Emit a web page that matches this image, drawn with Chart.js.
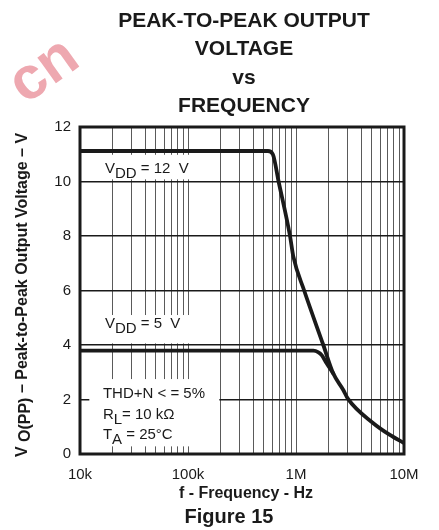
<!DOCTYPE html>
<html>
<head>
<meta charset="utf-8">
<script src="https://cdn.jsdelivr.net/npm/chart.js@4.4.1/dist/chart.umd.min.js"></script>
<style>
  html, body { margin: 0; padding: 0; background: #fff; }
</style>
</head>
<body>
<canvas id="chart" width="439" height="530"></canvas>
<script>
const FONT = '"Liberation Sans", Arial, Helvetica, sans-serif'

// VDD = 12 V curve
const freq12 = [1e4, 5.5e5, 6.1e5, 6.9e5, 8.8e5, 9.45e5, 1.19e6, 1.79e6, 2.21e6, 2.74e6, 3.03e6, 5.16e6, 7.4e6, 1e7]
const vpp12 = [11.12, 11.12, 11.0, 10.0, 8.0, 7.24, 6.0, 4.0, 2.96, 2.35, 2.02, 1.14, 0.70, 0.40]
// VDD = 5 V curve, runs into the 12 V one near 2 MHz
const freq5 = [1e4, 1.45e6, 1.6e6, 1.73e6, 1.92e6, 2.21e6]
const vpp5 = [3.79, 3.79, 3.74, 3.63, 3.33, 2.96]

const xTickValues = [1e4, 1e5, 1e6, 1e7]
const xTickLabels = ['10k', '100k', '1M', '10M']
const yTickValues = [0, 2, 4, 6, 8, 10, 12]

const titleLines = ['PEAK-TO-PEAK OUTPUT', 'VOLTAGE', 'vs', 'FREQUENCY']

// grid lines at 1..9 of every decade
const gridFreqs = []
xTickValues.slice(0, -1).forEach(d => {
  for (let k = 1; k < 10; k++) gridFreqs.push(k * d)
})
gridFreqs.push(xTickValues[xTickValues.length - 1])

// white boxes behind the notes, in data units: [x0, x1, yTop, yBottom]
const noteBoxes = [
  [1e4, 1.4e5, 10.98, 10.08],
  [1e4, 1.4e5, 5.1, 4.06],
  [1.22e4, 1.95e5, 2.75, 0.28]
]
// notes: anchor [x, y] in data units, parts are [text, isSubscript]
const notes = [
  { at: [1.7e4, 10.3], parts: [['V', 0], ['DD', 1], [' = 12  V', 0]] },
  { at: [1.7e4, 4.62], parts: [['V', 0], ['DD', 1], [' = 5  V', 0]] },
  { at: [1.63e4, 2.05], parts: [['THD+N < = 5%', 0]] },
  { at: [1.63e4, 1.27], parts: [['R', 0], ['L', 1], ['= 10 k\u03A9', 0]] },
  { at: [1.63e4, 0.55], parts: [['T', 0], ['A', 1], [' = 25\u00B0C', 0]] }
]

function toPoints(xs, ys) {
  return xs.map((x, i) => ({ x, y: ys[i] }))
}

function drawParts(ctx, parts, x, y, size, bold, subShift) {
  parts.forEach(([text, sub]) => {
    ctx.font = (bold ? 'bold ' : '') + size + 'px ' + FONT
    ctx.fillText(text, x, y + (sub ? subShift : 0))
    x += ctx.measureText(text).width
  })
}

function partsWidth(ctx, parts, size, bold) {
  ctx.font = (bold ? 'bold ' : '') + size + 'px ' + FONT
  return parts.reduce((w, p) => w + ctx.measureText(p[0]).width, 0)
}

const decor = {
  id: 'decor',
  beforeDraw(chart) {
    // faint watermark in the corner
    const { ctx } = chart
    ctx.save()
    ctx.translate(42, 68)
    ctx.rotate(-0.62)
    ctx.fillStyle = 'rgb(238, 168, 176)'
    ctx.font = 'bold 60px ' + FONT
    ctx.textAlign = 'center'
    ctx.textBaseline = 'middle'
    ctx.fillText('cn', 0, 4)
    ctx.restore()
  },
  beforeDatasetsDraw(chart) {
    const { ctx, scales: { x, y } } = chart
    ctx.save()
    ctx.fillStyle = '#fff'
    noteBoxes.forEach(([x0, x1, y0, y1]) => {
      const px0 = x.getPixelForValue(x0)
      const px1 = x.getPixelForValue(x1)
      const py0 = y.getPixelForValue(y0)
      const py1 = y.getPixelForValue(y1)
      ctx.fillRect(px0, py0, px1 - px0, py1 - py0)
    })
    ctx.fillStyle = '#1a1a1a'
    ctx.textBaseline = 'alphabetic'
    ctx.textAlign = 'left'
    notes.forEach(n => {
      drawParts(ctx, n.parts, x.getPixelForValue(n.at[0]), y.getPixelForValue(n.at[1]), 15, false, 5)
    })
    ctx.restore()
  },
  afterDatasetsDraw(chart) {
    const { ctx, chartArea: a } = chart
    ctx.save()
    ctx.strokeStyle = '#1a1a1a'
    ctx.lineWidth = 3
    ctx.strokeRect(a.left, a.top, a.right - a.left, a.bottom - a.top)
    ctx.restore()
  },
  afterDraw(chart) {
    const { ctx } = chart
    ctx.save()
    ctx.fillStyle = '#1a1a1a'
    ctx.textAlign = 'center'
    ctx.textBaseline = 'alphabetic'
    ctx.font = 'bold 21px ' + FONT
    titleLines.forEach((t, i) => ctx.fillText(t, 244, 26.5 + i * 28.5))

    ctx.font = 'bold 16px ' + FONT
    ctx.fillText('f - Frequency - Hz', 246, 498)
    ctx.font = 'bold 20px ' + FONT
    ctx.fillText('Figure 15', 229, 523)

    // y axis title with subscript
    const yParts = [['V ', 0], ['O(PP)', 1], [' \u2013 Peak-to-Peak Output Voltage \u2013 V', 0]]
    ctx.translate(27, 295)
    ctx.rotate(-Math.PI / 2)
    ctx.textAlign = 'left'
    const w = partsWidth(ctx, yParts, 16, true)
    drawParts(ctx, yParts, -w / 2, 0, 16, true, 3)
    ctx.restore()
  }
}

new Chart(document.getElementById('chart'), {
  type: 'line',
  data: {
    datasets: [
      { label: 'VDD = 12 V', data: toPoints(freq12, vpp12) },
      { label: 'VDD = 5 V', data: toPoints(freq5, vpp5) }
    ]
  },
  options: {
    responsive: false,
    animation: false,
    layout: { padding: { top: 127, right: 35, left: 0, bottom: 0 } },
    elements: {
      line: { borderColor: '#1a1a1a', borderWidth: 3.8, cubicInterpolationMode: 'monotone', borderCapStyle: 'round' },
      point: { radius: 0 }
    },
    plugins: {
      legend: { display: false },
      tooltip: { enabled: false },
      title: { display: false }
    },
    scales: {
      x: {
        type: 'logarithmic',
        min: 1e4,
        max: 1e7,
        afterBuildTicks: scale => { scale.ticks = gridFreqs.map(v => ({ value: v })) },
        afterFit: scale => { scale.height = 76 },
        grid: { color: '#5a5a5a', lineWidth: 1, drawTicks: false },
        border: { display: false },
        ticks: {
          autoSkip: false,
          maxRotation: 0,
          padding: 12,
          color: '#1a1a1a',
          font: { family: FONT, size: 15 },
          callback: v => {
            const i = xTickValues.indexOf(v)
            return i >= 0 ? xTickLabels[i] : ''
          }
        }
      },
      y: {
        min: 0,
        max: 12,
        afterBuildTicks: scale => { scale.ticks = yTickValues.map(v => ({ value: v })) },
        afterFit: scale => { scale.width = 80 },
        grid: { color: '#1a1a1a', lineWidth: 1.6, drawTicks: false },
        border: { display: false },
        ticks: {
          padding: 9,
          color: '#1a1a1a',
          font: { family: FONT, size: 15 }
        }
      }
    }
  },
  plugins: [decor]
})
</script>
</body>
</html>
